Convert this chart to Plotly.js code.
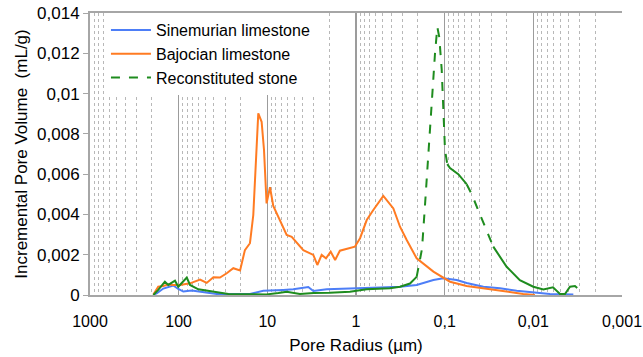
<!DOCTYPE html>
<html>
<head>
<meta charset="utf-8">
<script src="https://cdn.plot.ly/plotly-3.0.1.min.js"></script>
<style>html,body{margin:0;padding:0;background:#fff;}#chart{width:643px;height:357px;}</style>
</head>
<body>
<div id="chart"></div>
<script>
// Pore radius (µm) and incremental pore volume (mL/g)
const sinRadius = [193,177,149,125,115,101,88.7,71.3,57.4,37.2,15.7,11.1,6.6,5.1,3.45,3.03,2.14,1.4,0.9,0.536,0.319,0.207,0.134,0.104,0.0731,0.0565,0.0366,0.0238,0.0154,0.01,0.0065,0.00354];
const sinVolume = [0.00002,0.00008,0.00032,0.0004,0.00047,0.0003,0.00017,0.00022,0.00016,0.00005,0.00005,0.00021,0.00025,0.00028,0.0004,0.0002,0.00028,0.0003,0.00033,0.00037,0.00041,0.0005,0.00074,0.00083,0.00074,0.0006,0.00041,0.00033,0.00021,0.00013,0.00005,0.00002];

const bajRadius = [193,170,149,131,115,96.6,74.5,57.4,48.3,40.6,34.2,28.7,24.2,20.3,17.9,15.7,14.4,13.4,12.65,11.6,10.9,10.2,9.33,8.57,7.52,6.05,5.31,3.93,3.03,2.73,2.44,2.18,1.93,1.72,1.52,1.22,1.03,0.9,0.757,0.638,0.492,0.379,0.319,0.268,0.207,0.134,0.0871,0.0565,0.0366,0.02,0.013,0.0096];
const bajVolume = [0.00002,0.00041,0.00045,0.00052,0.0005,0.0005,0.00058,0.00077,0.0006,0.00088,0.00087,0.00108,0.00133,0.00122,0.00223,0.00257,0.00397,0.0072,0.00902,0.0086,0.0072,0.00455,0.00535,0.00442,0.00389,0.00298,0.00289,0.00223,0.00199,0.00149,0.00199,0.00182,0.00215,0.00174,0.0022,0.00232,0.0024,0.00282,0.00372,0.00422,0.00492,0.0043,0.00339,0.00273,0.00182,0.00116,0.00066,0.00045,0.00033,0.00016,0.00005,0];

const recRadius = [193,170,143,131,110,101,81,74.5,60,42.5,27.5,18,10.2,7.5,6.05,4.29,3,1.97,1.17,0.757,0.55,0.414,0.319,0.246,0.207,0.19,0.18,0.167,0.153,0.14,0.1285,0.121,0.115,0.108,0.1037,0.0991,0.0935,0.0871,0.0702,0.0565,0.0495,0.04,0.0283,0.02,0.0142,0.01,0.0077,0.006,0.005,0.0044,0.00386,0.00339,0.0032];
const recVolume = [0,0.00025,0.00066,0.0005,0.00071,0.00041,0.00087,0.0005,0.00028,0.00017,0.00005,0.00004,0.00003,0.0001,0.00016,0.00005,0.0001,0.00011,0.00016,0.00028,0.0003,0.00033,0.00041,0.00057,0.0009,0.0017,0.0023,0.0044,0.007,0.0095,0.012,0.0133,0.0128,0.0112,0.0095,0.0072,0.0065,0.0063,0.006,0.0055,0.005,0.004,0.0024,0.0014,0.00074,0.00041,0.00028,0.00038,0.00005,0.00005,0.00041,0.00045,0.00035];

const seriesNames = ['Sinemurian limestone','Bajocian limestone','Reconstituted stone'];
const xTickVals = [1000,100,10,1,0.1,0.01,0.001];
const xTickText = ['1000','100','10','1','0,1','0,01','0,001'];
const yTickVals = [0,0.002,0.004,0.006,0.008,0.01,0.012,0.014];
const yTickText = ['0','0,002','0,004','0,006','0,008','0,01','0,012','0,014'];

const colBlue = '#4d7ef7', colOrange = '#ff7b22', colGreen = '#1e8c1e';

// minor grid positions (2..9 within each decade)
const minorVals = [];
for (let e = -3; e < 3; e++) for (let d = 2; d <= 9; d++) minorVals.push(d * Math.pow(10, e));

const traces = [
  {x: sinRadius, y: sinVolume, name: seriesNames[0], type: 'scatter', mode: 'lines', line: {color: colBlue, width: 2}},
  {x: bajRadius, y: bajVolume, name: seriesNames[1], type: 'scatter', mode: 'lines', line: {color: colOrange, width: 2}}
];

// Green series: dashed in steep stretches, solid elsewhere (as in the original rendering)
function isDashed(r){ return (r <= 0.21 && r >= 0.0991) || (r <= 0.066 && r >= 0.03); }
let segStart = 0;
for (let i = 1; i <= recRadius.length; i++) {
  if (i === recRadius.length || isDashed(recRadius[i]) !== isDashed(recRadius[segStart])) {
    const last = Math.min(i, recRadius.length - 1);
    const dashed = isDashed(recRadius[segStart]);
    traces.push({
      x: recRadius.slice(segStart, last + 1), y: recVolume.slice(segStart, last + 1),
      name: seriesNames[2], type: 'scatter', mode: 'lines', legendgroup: 'rec',
      showlegend: false,
      line: {color: colGreen, width: 2, dash: dashed ? 'dash' : 'solid'}
    });
    segStart = i;
  }
}
// legend entry for green (dashed)
traces.push({x: [null], y: [null], name: seriesNames[2], type: 'scatter', mode: 'lines', legendgroup: 'rec',
  line: {color: colGreen, width: 2, dash: 'dash'}});

const font = 'Liberation Sans, Arial, sans-serif';
const layout = {
  width: 643, height: 357,
  margin: {l: 90, r: 21, t: 13, b: 62},
  paper_bgcolor: '#fff', plot_bgcolor: '#fff',
  font: {family: font, size: 16, color: '#000'},
  showlegend: true,
  legend: {x: 0.03, y: 1.0, xanchor: 'left', yanchor: 'top', bgcolor: '#fff', borderwidth: 0,
    font: {family: font, size: 16, color: '#000'}, tracegroupgap: 0, itemwidth: 40},
  xaxis: {
    type: 'log', range: [3, -3],
    tickmode: 'array', tickvals: xTickVals, ticktext: xTickText,
    showgrid: true, gridcolor: '#9c9c9c', gridwidth: 1.5,
    minor: {tickmode: 'array', tickvals: minorVals, showgrid: true, gridcolor: '#b8b8b8', griddash: 'dot', gridwidth: 1, ticks: ''},
    showline: true, linecolor: '#a6a6a6', linewidth: 2, mirror: true,
    ticks: '', ticklabelstandoff: 11,
    tickfont: {family: font, size: 16},
    zeroline: false,
    title: {text: 'Pore Radius (µm)', font: {family: font, size: 17}, standoff: 10}
  },
  yaxis: {
    range: [0, 0.014],
    tickmode: 'array', tickvals: yTickVals, ticktext: yTickText,
    showgrid: false, zeroline: false,
    showline: true, linecolor: '#a6a6a6', linewidth: 2,
    ticks: 'outside', ticklen: 5, tickcolor: '#a6a6a6', tickwidth: 1,
    tickfont: {family: font, size: 17},
    title: {text: 'Incremental Pore Volume&nbsp; (mL/g)', font: {family: font, size: 17}, standoff: 5}
  }
};

Plotly.newPlot('chart', traces, layout, {displayModeBar: false, staticPlot: true});
</script>
</body>
</html>
